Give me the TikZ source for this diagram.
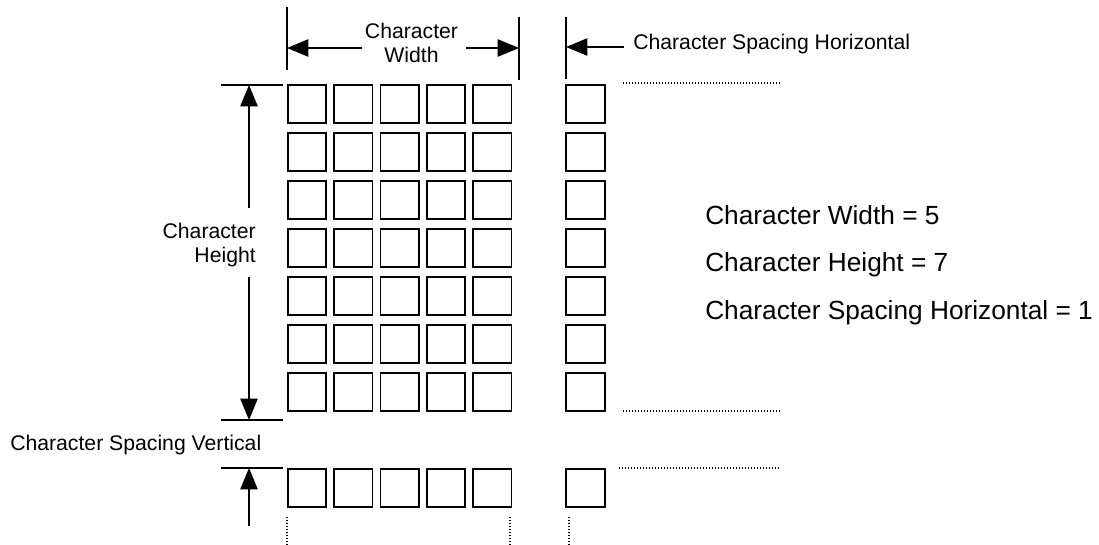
\documentclass[tikz,border=0pt]{standalone}
\usepackage{fontspec}
\setmainfont{Liberation Sans}
\usetikzlibrary{arrows.meta}
\begin{document}
\begin{tikzpicture}[x=0.75pt,y=-0.75pt,
  cell/.style={draw,line width=1.3pt,minimum width=28.8pt,minimum height=28.6pt,inner sep=0pt,outer sep=0pt},
  dimline/.style={line width=1pt},
  dimarrow/.style={line width=1pt,-{Triangle[length=16pt,width=13pt]}},
  dotline/.style={line width=0.9pt,dash pattern=on 0.75pt off 1.5pt},
  lbl/.style={font=\fontsize{15.9}{17.8}\selectfont,inner sep=0pt},
  big/.style={font=\fontsize{19.7}{22}\selectfont,inner sep=0pt}]
\path[use as bounding box,fill=white] (0,0) rectangle (1099,545);

% main grid 7 rows x 5 columns + spacing column
\foreach \r in {0,...,6}{
  \foreach \c in {0,...,4}{
    \node[cell] (b-\r-\c) at ({307+46.3*\c},{104.25+48*\r}) {};
  }
  \node[cell] (s-\r) at (585.5,{104.25+48*\r}) {};
}
% next character row
\foreach \c in {0,...,4}{
  \node[cell] (n-\c) at ({307+46.3*\c},488) {};
}
\node[cell] (ns) at (585.5,488) {};

% Character Width dimension
\coordinate (cwl1) at (287,7);
\coordinate (cwl2) at (287,70);
\coordinate (cwr1) at (519,17);
\coordinate (cwr2) at (519,80);
\draw[dimline] (cwl1) -- (cwl2);
\draw[dimline] (cwr1) -- (cwr2);
\node[lbl,align=center] (cw) at (411.5,43) {Character\\Width};
\coordinate (cwa) at (362,48);
\coordinate (cwb) at (466,48);
\draw[dimarrow] (cwa) -- (cwl1 |- cwa);
\draw[dimarrow] (cwb) -- (cwr1 |- cwb);

% Character Spacing Horizontal
\coordinate (sh1) at (566,17);
\coordinate (sh2) at (566,79);
\draw[dimline] (sh1) -- (sh2);
\coordinate (sha) at (624,47);
\draw[dimarrow] (sha) -- (sh1 |- sha);
\node[lbl,anchor=base west] (shl) at (633,49.5) {Character Spacing Horizontal};

% Character Height dimension
\coordinate (ht1) at (221,85);
\coordinate (ht2) at (283,85);
\coordinate (hb1) at (221,420);
\coordinate (hb2) at (283,420);
\draw[dimline] (ht1) -- (ht2);
\draw[dimline] (hb1) -- (hb2);
\node[lbl,align=right,anchor=east] (ch) at (256,245) {Character\\Height};
\coordinate (cha) at (249,208);
\coordinate (chb) at (249,277);
\draw[dimarrow] (cha) -- (cha |- ht1);
\draw[dimarrow] (chb) -- (chb |- hb1);

% Character Spacing Vertical
\node[lbl,anchor=base west] (svl) at (10,450) {Character Spacing Vertical};
\coordinate (nt1) at (221,468);
\coordinate (nt2) at (283,468);
\draw[dimline] (nt1) -- (nt2);
\coordinate (sva) at (249,526);
\draw[dimarrow] (sva) -- (sva |- nt1);

% continuation dots
\coordinate (d1a) at (623,83);  \coordinate (d1b) at (782,83);
\coordinate (d2a) at (623,411); \coordinate (d2b) at (782,411);
\coordinate (d3a) at (619,468); \coordinate (d3b) at (779,468);
\draw[dotline] (d1a) -- (d1b);
\draw[dotline] (d2a) -- (d2b);
\draw[dotline] (d3a) -- (d3b);
\coordinate (v1a) at (287,517); \coordinate (v1b) at (287,545);
\coordinate (v2a) at (510,517); \coordinate (v2b) at (510,545);
\coordinate (v3a) at (569,517); \coordinate (v3b) at (569,545);
\draw[dotline] (v1a) -- (v1b);
\draw[dotline] (v2a) -- (v2b);
\draw[dotline] (v3a) -- (v3b);

% summary
\node[big,anchor=base west] (t1) at (705,225) {Character Width = 5};
\node[big,anchor=base west] (t2) at (705,272) {Character Height = 7};
\node[big,anchor=base west] (t3) at (705,319) {Character Spacing Horizontal = 1};
\end{tikzpicture}
\end{document}
